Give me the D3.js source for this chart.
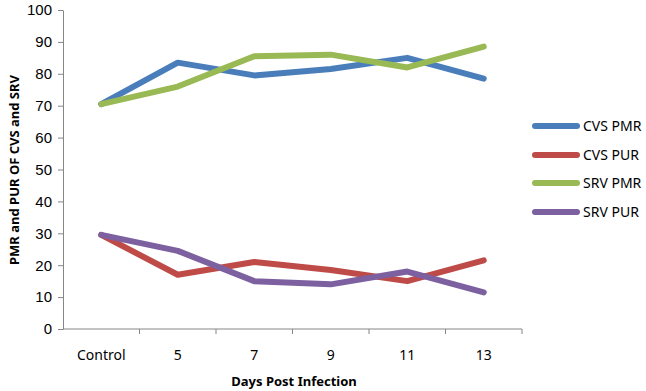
<!DOCTYPE html>
<html lang="en">
<head>
  <meta charset="utf-8">
  <title>PMR and PUR</title>
  <script src="https://cdn.jsdelivr.net/npm/d3@7"></script>
  <style>
    body { margin: 0; background: #fff; }
    svg { font-family: "Noto Sans", "Open Sans", sans-serif; }
  </style>
</head>
<body>
  <div id="chart"></div>
  <script>
    var days = ["Control", "5", "7", "9", "11", "13"];
    var seriesNames = ["CVS PMR", "CVS PUR", "SRV PMR", "SRV PUR"];
    var seriesColors = ["#4a7ebb", "#be4b48", "#98b954", "#7d60a0"];
    var cvsPmr = [70.5, 83.5, 79.5, 81.5, 85, 78.5];
    var cvsPur = [29.5, 17, 21, 18.5, 15, 21.5];
    var srvPmr = [70.5, 76, 85.5, 86, 82, 88.5];
    var srvPur = [29.5, 24.5, 15, 14, 18, 11.5];
    var yTicks = [0, 10, 20, 30, 40, 50, 60, 70, 80, 90, 100];

    var allSeries = [cvsPmr, cvsPur, srvPmr, srvPur];

    var width = 646, height = 391;
    var plotLeft = 63, plotRight = 522, plotTop = 10, plotBottom = 329;

    var svg = d3.select('#chart').append('svg')
      .attr('width', width)
      .attr('height', height);

    var x = d3.scaleBand().domain(days).range([plotLeft, plotRight]);
    var y = d3.scaleLinear().domain([0, 100]).range([plotBottom, plotTop]);

    // y axis
    var yAxis = svg.append('g')
      .attr('transform', 'translate(' + plotLeft + ',0)')
      .call(d3.axisLeft(y).tickValues(yTicks).tickSize(5).tickPadding(6).tickSizeOuter(0));
    yAxis.select('.domain').attr('stroke', '#868686');
    yAxis.selectAll('.tick line').attr('stroke', '#868686');
    yAxis.selectAll('text').style('font-size', '15px').attr('fill', '#000');

    // x axis with ticks at category boundaries
    var xAxis = svg.append('g')
      .attr('transform', 'translate(0,' + plotBottom + ')');
    xAxis.append('line')
      .attr('x1', plotLeft).attr('x2', plotRight)
      .attr('stroke', '#868686');
    xAxis.selectAll('.bound')
      .data(days)
      .enter().append('line')
      .attr('x1', function (d) { return x(d) + x.bandwidth(); })
      .attr('x2', function (d) { return x(d) + x.bandwidth(); })
      .attr('y1', 0).attr('y2', 5)
      .attr('stroke', '#868686');
    xAxis.selectAll('.lbl')
      .data(days)
      .enter().append('text')
      .attr('x', function (d) { return x(d) + x.bandwidth() / 2; })
      .attr('y', 31)
      .attr('text-anchor', 'middle')
      .style('font-size', '14px')
      .text(function (d) { return d; });

    // lines
    var line = d3.line()
      .x(function (d, i) { return x(days[i]) + x.bandwidth() / 2; })
      .y(function (d) { return y(d); });

    svg.selectAll('.series')
      .data(allSeries)
      .enter().append('path')
      .attr('d', line)
      .attr('fill', 'none')
      .attr('stroke', function (d, i) { return seriesColors[i]; })
      .attr('stroke-width', 6)
      .attr('stroke-linecap', 'round')
      .attr('stroke-linejoin', 'round');

    // legend
    var legend = svg.append('g');
    var legendY = [126, 155, 183, 212];
    seriesNames.forEach(function (name, i) {
      legend.append('line')
        .attr('x1', 535).attr('x2', 577)
        .attr('y1', legendY[i]).attr('y2', legendY[i])
        .attr('stroke', seriesColors[i])
        .attr('stroke-width', 6)
        .attr('stroke-linecap', 'round');
      legend.append('text')
        .attr('x', 583)
        .attr('y', legendY[i] + 5)
        .style('font-size', '14px')
        .text(name);
    });

    // axis titles
    svg.append('text')
      .attr('transform', 'translate(19,170) rotate(-90)')
      .attr('text-anchor', 'middle')
      .style('font-size', '13px')
      .style('font-weight', 'bold')
      .text('PMR and PUR OF CVS and SRV');

    svg.append('text')
      .attr('x', 294)
      .attr('y', 386)
      .attr('text-anchor', 'middle')
      .style('font-size', '13px')
      .style('font-weight', 'bold')
      .text('Days Post Infection');
  </script>
</body>
</html>
